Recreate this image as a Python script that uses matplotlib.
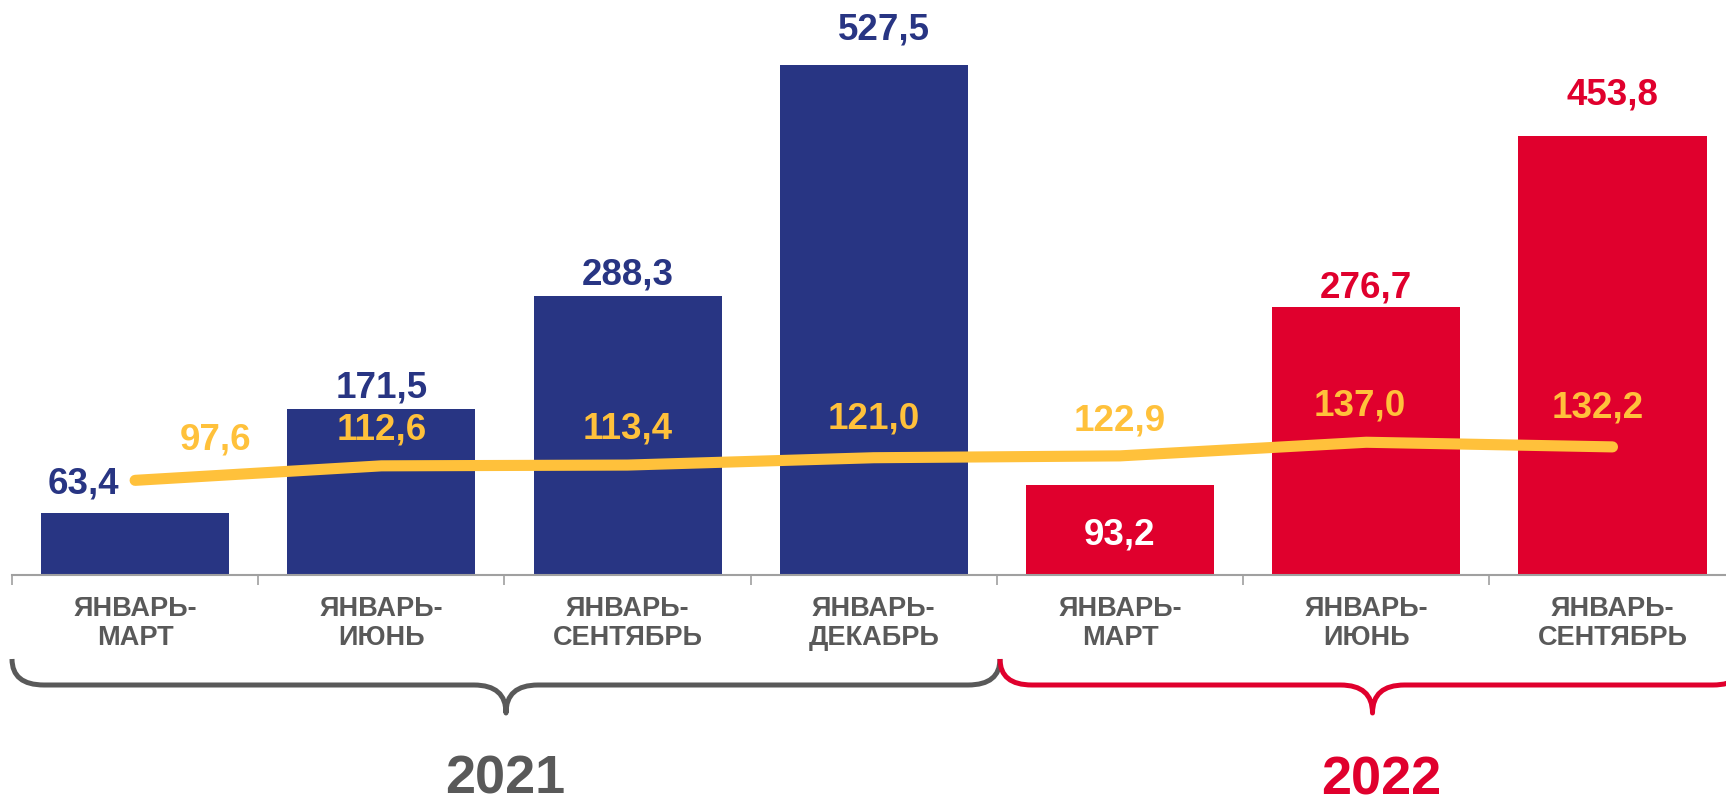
import matplotlib
matplotlib.use("Agg")
import matplotlib.pyplot as plt
from matplotlib.path import Path
from matplotlib.patches import PathPatch

plt.rcParams['font.family'] = ['Liberation Sans', 'DejaVu Sans']

# ---- data ----
categories = ["ЯНВАРЬ-\nМАРТ", "ЯНВАРЬ-\nИЮНЬ", "ЯНВАРЬ-\nСЕНТЯБРЬ", "ЯНВАРЬ-\nДЕКАБРЬ",
              "ЯНВАРЬ-\nМАРТ", "ЯНВАРЬ-\nИЮНЬ", "ЯНВАРЬ-\nСЕНТЯБРЬ"]
years = ["2021", "2021", "2021", "2021", "2022", "2022", "2022"]
bar_values = [63.4, 171.5, 288.3, 527.5, 93.2, 276.7, 453.8]
line_values = [97.6, 112.6, 113.4, 121.0, 122.9, 137.0, 132.2]
year_labels = ["2021", "2022"]

BLUE = "#283583"
RED = "#E0002D"
YELLOW = "#FFC13B"
GRAY = "#595959"
AXGRAY = "#A0A0A0"

def fmt(v):
    return f"{v:.1f}".replace(".", ",")

W, H = 1726, 803
fig = plt.figure(figsize=(W / 100, H / 100), dpi=100)
base_y = 575.7
ax = fig.add_axes([12 / W, (H - base_y) / H, 1 - 12 / W, base_y / H])
ax.set_xlim(-0.5, 6.461)
ax.set_ylim(0, 595.5)

x = list(range(len(bar_values)))
colors = [BLUE if y == "2021" else RED for y in years]
ax.bar(x, bar_values, width=0.764, color=colors, zorder=2)
ax.plot(x, line_values, color=YELLOW, lw=8, solid_capstyle='round',
        solid_joinstyle='round', zorder=3)

for s in ["top", "left", "right"]:
    ax.spines[s].set_visible(False)
ax.spines["bottom"].set_color(AXGRAY)
ax.spines["bottom"].set_linewidth(1.5)
ax.set_yticks([])
ax.set_xticks([i - 0.5 for i in range(len(x))])
ax.set_xticklabels([])
ax.tick_params(axis='x', direction='out', length=7, width=1.2, color=AXGRAY)

# bar value labels (offsets in pixels relative to bar top)
bar_offsets = [(-52, 30), (0, 22), (0, 22), (10, 36), (0, -49), (0, 20), (0, 42)]
for i, v in enumerate(bar_values):
    dx, dy = bar_offsets[i]
    c = colors[i]
    if dy < 0:
        c = "white"
    ax.annotate(fmt(v), (i, v), xytext=(dx, dy), textcoords='offset pixels',
                ha='center', va='center', fontsize=26.5, fontweight='bold',
                color=c, zorder=5)

# line value labels
line_offsets = [(80, 41), (0, 37), (0, 37), (0, 40), (0, 36), (-7, 37), (-15, 40)]
for i, v in enumerate(line_values):
    dx, dy = line_offsets[i]
    ax.annotate(fmt(v), (i, v), xytext=(dx, dy), textcoords='offset pixels',
                ha='center', va='center', fontsize=26.5, fontweight='bold',
                color=YELLOW, zorder=5)

# category labels
for i, c in enumerate(categories):
    ax.annotate(c, (i, 0), xytext=(0, -48), textcoords='offset pixels',
                ha='center', va='center', fontsize=19.5, fontweight='bold',
                color=GRAY, linespacing=1.12, annotation_clip=False)

# braces in figure pixel coordinates
ov = fig.add_axes([0, 0, 1, 1], zorder=-1)
ov.set_xlim(0, W)
ov.set_ylim(H, 0)
ov.axis('off')

def brace(x0, x1, color):
    ytop, ymid, ytip = 660, 686, 714
    xc = (x0 + x1) / 2
    r = 32
    verts = [(x0, ytop), (x0, ymid), (x0 + r, ymid),
             (xc - r, ymid), (xc, ymid), (xc, ytip),
             (xc, ymid), (xc + r, ymid),
             (x1 - r, ymid), (x1, ymid), (x1, ytop)]
    codes = [Path.MOVETO, Path.CURVE3, Path.CURVE3,
             Path.LINETO, Path.CURVE3, Path.CURVE3,
             Path.CURVE3, Path.CURVE3,
             Path.LINETO, Path.CURVE3, Path.CURVE3]
    ov.add_patch(PathPatch(Path(verts, codes), fill=False, edgecolor=color,
                           lw=3.6, capstyle='butt', joinstyle='round'))

brace(12, 1000, GRAY)
brace(1000, 1745, RED)

fig.text(505 / W, 1 - 780 / H, year_labels[0], ha='center', va='center',
         fontsize=39, fontweight='bold', color=GRAY)
fig.text(1381 / W, 1 - 781 / H, year_labels[1], ha='center', va='center',
         fontsize=39, fontweight='bold', color=RED)

fig.savefig("out.png", dpi=100)
